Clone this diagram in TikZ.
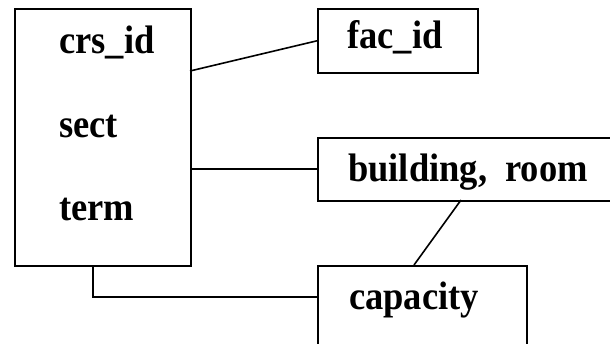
\documentclass[tikz,border=0pt]{standalone}
\usepackage{fontspec}
\usepackage{graphicx}
\setmainfont{Liberation Serif}
\newcommand{\stretchtxt}[1]{\scalebox{1}[1.09]{#1}}
\begin{document}
\begin{tikzpicture}[x=1pt,y=-1pt,
  box/.style={draw, line width=1.6pt, rectangle, inner sep=0pt, anchor=north west},
  lbl/.style={anchor=base west, inner sep=0pt, font=\fontsize{36.5}{42}\selectfont\bfseries},
  conn/.style={line width=1.6pt}]
\useasboundingbox (0,0) rectangle (610,343);
\clip (0,0) rectangle (610,343);
\node[box, minimum width=176pt, minimum height=257pt] (main) at (14,8) {};
\node[box, minimum width=160pt, minimum height=64pt] (fac) at (317,8) {};
\node[box, minimum width=300pt, minimum height=63pt] (bldg) at (317,137) {};
\node[box, minimum width=209pt, minimum height=120pt] (cap) at (317,265) {};
\node[lbl] (t1) at (59,53) {\stretchtxt{crs\_id}};
\node[lbl] (t2) at (59,137) {\stretchtxt{sect}};
\node[lbl] (t3) at (59,220) {\stretchtxt{term}};
\node[lbl] (t4) at (347,48) {\stretchtxt{fac\_id}};
\node[lbl] (t5) at (348,181) {\stretchtxt{building,\ \ room}};
\node[lbl] (t6) at (349,309) {\stretchtxt{capacity}};
\coordinate (m1) at (190,71);
\coordinate (m2) at (190,169);
\coordinate (m3) at (93,265);
\coordinate (b1) at (461,200);
\coordinate (c1) at (414,265);
\coordinate (c2) at (317,297);
\draw[conn] (m1) -- (fac.west);
\draw[conn] (m2) -- (m2 -| bldg.west);
\draw[conn] (m3) |- (c2);
\draw[conn] (b1) -- (c1);
\end{tikzpicture}
\end{document}
